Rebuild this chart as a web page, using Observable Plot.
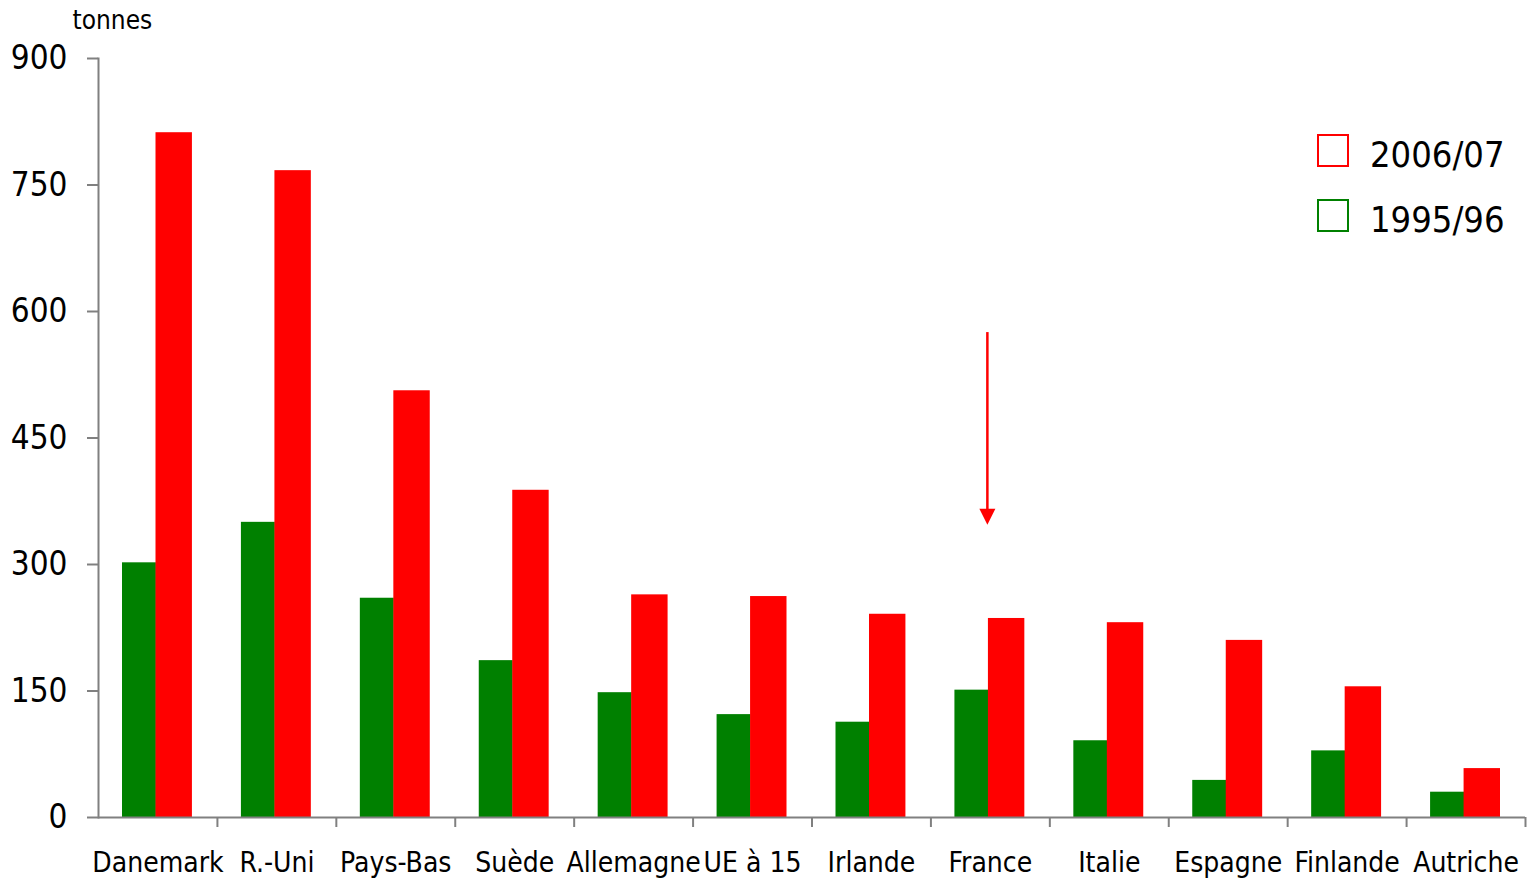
<!DOCTYPE html>
<html>
<head>
<meta charset="utf-8">
<script src="https://cdn.jsdelivr.net/npm/d3@7"></script>
<script src="https://cdn.jsdelivr.net/npm/@observablehq/plot@0.6"></script>
<style>
  html, body { margin: 0; padding: 0; background: #fff; }
  #wrap { position: relative; width: 1528px; height: 883px; font-family: "DejaVu Sans", sans-serif; font-stretch: condensed; }
  .legend { position: absolute; left: 1317px; top: 118px; }
  .legend .row { display: flex; align-items: center; height: 65px; }
  .legend .sw { width: 28px; height: 29px; border: 2px solid; box-sizing: content-box; margin-right: 21px; }
  .legend .lab { font-size: 36px; color: #000; font-stretch: condensed; position: relative; top: 4px; }
</style>
</head>
<body>
<div id="wrap"></div>
<script>
const countries = ["Danemark", "R.-Uni", "Pays-Bas", "Suède", "Allemagne", "UE à 15", "Irlande", "France", "Italie", "Espagne", "Finlande", "Autriche"];
const values1995 = [302, 350, 260, 186, 148, 122, 113, 151, 91, 44, 79, 30];
const values2006 = [812, 767, 506, 388, 264, 262, 241, 236, 231, 210, 155, 58];
const series = ["2006/07", "1995/96"];
const seriesColors = ["#ff0000", "#008000"];
const yTicks = [0, 150, 300, 450, 600, 750, 900];
const yLabel = "tonnes";
const arrowCountry = "France";
const arrowTop = 575;
const arrowTip = 347;

const data = [];
countries.forEach((c, i) => {
  data.push({country: c, series: "1995/96", value: values1995[i]});
  data.push({country: c, series: "2006/07", value: values2006[i]});
});

const W = 1528, H = 883, ML = 98, MR = 3, MT = 58, MB = 66;
const step = (W - ML - MR) / countries.length;
const font = '"DejaVu Sans", sans-serif';
const gray = "#808080";

const triDown = {
  draw(ctx) {
    ctx.moveTo(-8, -16);
    ctx.lineTo(8, -16);
    ctx.lineTo(0, 0);
    ctx.closePath();
  }
};

const chart = Plot.plot({
  width: W,
  height: H,
  marginLeft: ML,
  marginRight: MR,
  marginTop: MT,
  marginBottom: MB,
  style: {fontFamily: font, fontStretch: "condensed", background: "#fff", color: "#000"},
  x: {domain: countries, padding: 0, round: false},
  y: {domain: [0, 900]},
  marks: [
    Plot.barY(data.filter(d => d.series === "1995/96"), {x: "country", y: "value", fill: seriesColors[1], insetLeft: 24, insetRight: 61}),
    Plot.barY(data.filter(d => d.series === "2006/07"), {x: "country", y: "value", fill: seriesColors[0], insetLeft: 57.5, insetRight: 25}),
    Plot.ruleY([0], {stroke: gray, strokeWidth: 2}),
    Plot.frame({anchor: "left", stroke: gray, strokeWidth: 2}),
    Plot.axisY({ticks: yTicks, tickSize: 11, tickPadding: 20, fontSize: 33, stroke: gray, strokeWidth: 2, label: null, color: "#000"}),
    Plot.axisX({tickSize: 10, dx: step / 2, tickFormat: () => "", stroke: gray, strokeWidth: 2, label: null}),
    Plot.axisX({tickSize: 0, tickPadding: 35, fontSize: 28, label: null, color: "#000"}),
    Plot.text([yLabel], {frameAnchor: "top-left", dx: -26, dy: -48, fontSize: 26, textAnchor: "start", fill: "#000"}),
    Plot.ruleX([arrowCountry], {x: d => d, y1: arrowTop, y2: arrowTip + 18, stroke: "#ff0000", strokeWidth: 2.5, dx: -3}),
    Plot.dot([arrowCountry], {x: d => d, y: arrowTip, symbol: triDown, fill: "#ff0000", stroke: "none", dx: -3})
  ]
});

const wrap = document.getElementById("wrap");
wrap.appendChild(chart);

const legend = document.createElement("div");
legend.className = "legend";
series.forEach((s, i) => {
  const row = document.createElement("div");
  row.className = "row";
  const sw = document.createElement("div");
  sw.className = "sw";
  sw.style.borderColor = seriesColors[i];
  const lab = document.createElement("span");
  lab.className = "lab";
  lab.textContent = s;
  row.appendChild(sw);
  row.appendChild(lab);
  legend.appendChild(row);
});
wrap.appendChild(legend);
</script>
</body>
</html>
